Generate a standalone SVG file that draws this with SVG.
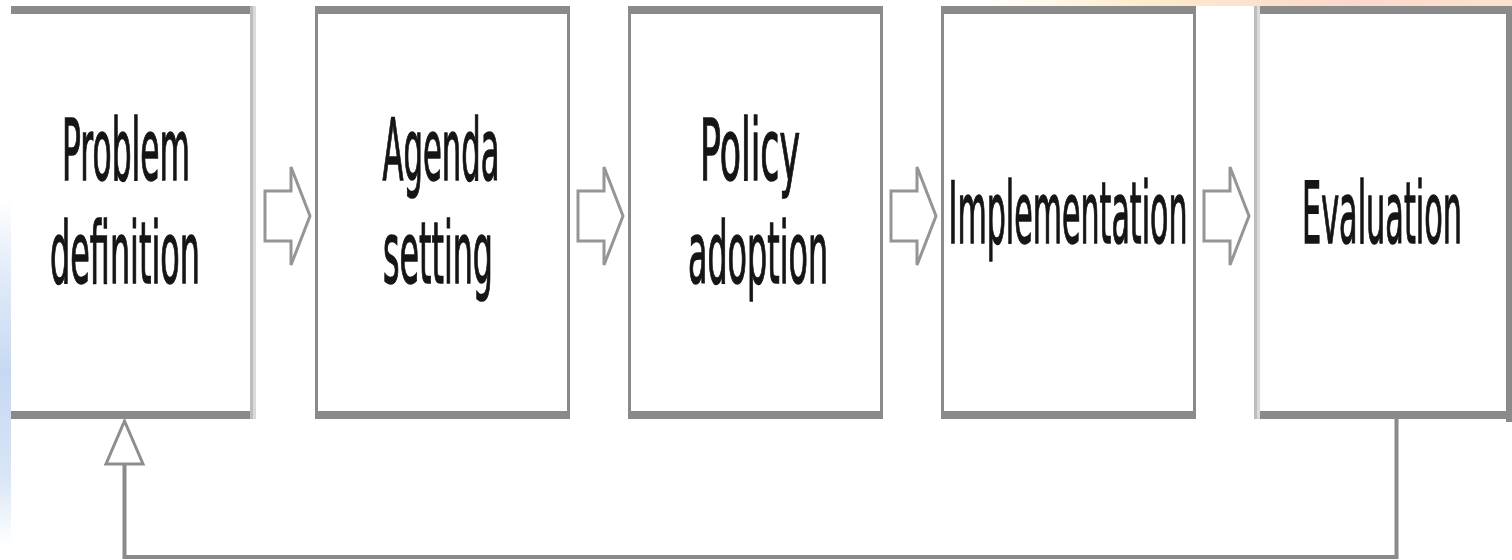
<svg xmlns="http://www.w3.org/2000/svg" width="1512" height="560" viewBox="0 0 1512 560">
<defs>
<linearGradient id="blueEdge" x1="0" y1="0" x2="0" y2="1">
<stop offset="0" stop-color="#ffffff"/>
<stop offset="0.2" stop-color="#e3ecf8"/>
<stop offset="0.5" stop-color="#c6d9f2"/>
<stop offset="0.8" stop-color="#d8e5f5"/>
<stop offset="1" stop-color="#ffffff"/>
</linearGradient>
<linearGradient id="peachTop" x1="0" y1="0" x2="1" y2="0">
<stop offset="0" stop-color="#ffffff"/>
<stop offset="0.3" stop-color="#fdeccc"/>
<stop offset="0.7" stop-color="#fcd8cc"/>
<stop offset="1" stop-color="#fde2d0"/>
</linearGradient>
<style>
.bar{fill:#8a8a8a}
.side{fill:#8a8a8a}
.lite1{fill:#bdbdbd}
.lite2{fill:#dadada}
.lbl{font-family:"DejaVu Sans","Liberation Sans",sans-serif;font-size:86px;fill:#151515;stroke:#151515;stroke-width:1.6;text-anchor:middle}
.arr{fill:#ffffff;stroke:#959595;stroke-width:3;stroke-linejoin:miter}
.conn{fill:none;stroke:#8a8a8a;stroke-width:4}
.tri{fill:#ffffff;stroke:#8e8e8e;stroke-width:3}
</style>
</defs>
<rect x="0" y="0" width="1512" height="560" fill="#ffffff"/>
<rect x="0" y="200" width="11" height="345" fill="url(#blueEdge)"/>
<rect x="980" y="0" width="532" height="6" fill="url(#peachTop)"/>

<g id="node-problem-definition">
<rect x="11" y="14" width="239" height="397" fill="#ffffff"/>
<rect class="bar" x="11" y="6" width="245" height="8"/>
<rect class="bar" x="11" y="411" width="245" height="8"/>
<rect class="lite1" x="250" y="6" width="3" height="413"/>
<rect class="lite2" x="253" y="6" width="3" height="413"/>
<text class="lbl" x="126" y="180" textLength="128" lengthAdjust="spacingAndGlyphs">Problem</text>
<text class="lbl" x="125" y="283" textLength="150" lengthAdjust="spacingAndGlyphs">definition</text>
</g>

<g id="node-agenda-setting">
<rect x="315" y="6" width="255" height="413" fill="#ffffff"/>
<rect class="bar" x="315" y="6" width="255" height="8"/>
<rect class="bar" x="315" y="411" width="255" height="8"/>
<rect class="side" x="315" y="6" width="3" height="413"/>
<rect class="side" x="567" y="6" width="3" height="413"/>
<text class="lbl" x="441" y="180" textLength="117" lengthAdjust="spacingAndGlyphs">Agenda</text>
<text class="lbl" x="438" y="283" textLength="110" lengthAdjust="spacingAndGlyphs">setting</text>
</g>

<g id="node-policy-adoption">
<rect x="628" y="6" width="255" height="413" fill="#ffffff"/>
<rect class="bar" x="628" y="6" width="255" height="8"/>
<rect class="bar" x="628" y="411" width="255" height="8"/>
<rect class="side" x="628" y="6" width="3" height="413"/>
<rect class="side" x="880" y="6" width="3" height="413"/>
<text class="lbl" x="750" y="180" textLength="100" lengthAdjust="spacingAndGlyphs">Policy</text>
<text class="lbl" x="758" y="283" textLength="140" lengthAdjust="spacingAndGlyphs">adoption</text>
</g>

<g id="node-implementation">
<rect x="941" y="6" width="255" height="413" fill="#ffffff"/>
<rect class="bar" x="941" y="6" width="255" height="8"/>
<rect class="bar" x="941" y="411" width="255" height="8"/>
<rect class="side" x="941" y="6" width="3" height="413"/>
<rect class="side" x="1193" y="6" width="3" height="413"/>
<text class="lbl" x="1068" y="243" textLength="239" lengthAdjust="spacingAndGlyphs">Implementation</text>
</g>

<g id="node-evaluation">
<rect x="1254" y="6" width="258" height="413" fill="#ffffff"/>
<rect class="bar" x="1254" y="6" width="258" height="8"/>
<rect class="bar" x="1254" y="411" width="258" height="8"/>
<rect class="lite1" x="1254" y="6" width="3" height="413"/>
<rect class="lite2" x="1257" y="6" width="3" height="413"/>
<rect class="side" x="1506" y="6" width="6" height="416"/>
<text class="lbl" x="1382" y="243" textLength="160" lengthAdjust="spacingAndGlyphs">Evaluation</text>
</g>

<g id="connectors">
<polygon class="arr" points="265,191 291,191 291,167 310,216 291,265 291,241 265,241"/>
<polygon class="arr" points="578,191 604,191 604,167 623,216 604,265 604,241 578,241"/>
<polygon class="arr" points="891,191 917,191 917,167 936,216 917,265 917,241 891,241"/>
<polygon class="arr" points="1204,191 1230,191 1230,167 1249,216 1230,265 1230,241 1204,241"/>
<polyline class="conn" points="1396.5,419 1396.5,557 124.5,557 124.5,464"/>
<polygon class="tri" points="124.5,421 106,464 143,464"/>
</g>
</svg>
